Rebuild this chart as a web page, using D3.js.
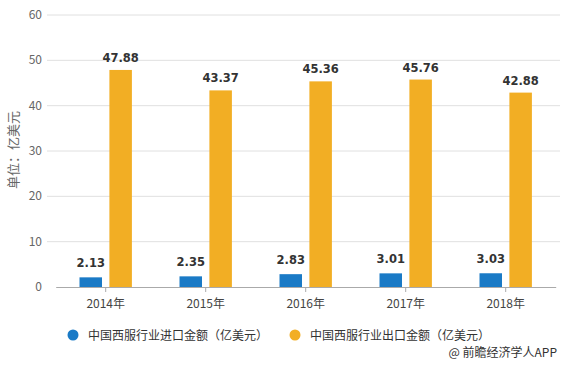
<!DOCTYPE html>
<html><head><meta charset="utf-8">
<script src="https://cdn.jsdelivr.net/npm/d3@7"></script>
<style>body{margin:0;background:#fff;}svg{display:block;font-family:"Microsoft YaHei","Noto Sans CJK SC",sans-serif;}</style>
</head><body><svg id="c" width="565" height="369"></svg>
<script>
const categories = ["2014年","2015年","2016年","2017年","2018年"];
const importValues = [2.13,2.35,2.83,3.01,3.03];
const exportValues = [47.88,43.37,45.36,45.76,42.88];
const seriesNames = ["中国西服行业进口金额（亿美元）","中国西服行业出口金额（亿美元）"];
const yTicks = [0,10,20,30,40,50,60];
const colors = ["#1a7ac6","#f2ae24"];

(function(){
const svg = d3.select("#c");
const pLeft = 55.7, pRight = 555.7, pTop = 15, pBottom = 287;
const x = d3.scaleBand().domain(categories).range([pLeft,pRight]);
const y = d3.scaleLinear().domain([0,60]).range([pBottom,pTop]);

// grid
svg.append("g").selectAll("line").data(yTicks.filter(d=>d>0)).join("line")
  .attr("x1",47).attr("x2",560).attr("y1",d=>y(d)).attr("y2",d=>y(d))
  .attr("stroke","#e0e0e0").attr("stroke-width",1);
// y labels
svg.append("g").selectAll("text").data(yTicks).join("text")
  .attr("x",42).attr("y",d=>y(d)+4).attr("text-anchor","end")
  .attr("font-size",12).attr("fill","#666").text(d=>d);
// y title
svg.append("text").attr("transform","translate(17.5,150) rotate(-90)")
  .attr("text-anchor","middle").attr("font-size",13).attr("fill","#666").text("单位：亿美元");

// x axis
const xAxis = d3.axisBottom(x).tickSize(5).tickSizeOuter(0);
const gx = svg.append("g").attr("transform",`translate(0,${pBottom})`).call(xAxis);
gx.select(".domain").attr("stroke","#aaa");
gx.selectAll(".tick line").attr("stroke","#aaa");
gx.selectAll(".tick text").attr("font-size",12).attr("fill","#444").attr("dy","1.05em")
  .attr("font-family","\"Microsoft YaHei\",\"Noto Sans CJK SC\",sans-serif");

const bw = 22.5, gap = 3.7;
const cx = d => x(d)+x.bandwidth()/2;
// bars
svg.append("g").selectAll("rect").data(categories).join("rect")
  .attr("x",(d)=>cx(d)-gap-bw).attr("width",bw)
  .attr("y",(d,i)=>y(importValues[i])).attr("height",(d,i)=>pBottom-y(importValues[i]))
  .attr("fill",colors[0]);
svg.append("g").selectAll("rect").data(categories).join("rect")
  .attr("x",(d)=>cx(d)+gap).attr("width",bw)
  .attr("y",(d,i)=>y(exportValues[i])).attr("height",(d,i)=>pBottom-y(exportValues[i]))
  .attr("fill",colors[1]);
// labels
svg.append("g").selectAll("text").data(categories).join("text")
  .attr("x",(d)=>cx(d)-gap-bw/2).attr("y",(d,i)=>y(importValues[i])-10)
  .attr("text-anchor","middle").attr("font-size",11.5).attr("font-weight","bold")
  .attr("fill","#333").attr("font-family","Verdana,'DejaVu Sans',sans-serif")
  .text((d,i)=>importValues[i].toFixed(2));
svg.append("g").selectAll("text").data(categories).join("text")
  .attr("x",(d)=>cx(d)+gap+bw/2).attr("y",(d,i)=>y(exportValues[i])-8)
  .attr("text-anchor","middle").attr("font-size",11.5).attr("font-weight","bold")
  .attr("fill","#333").attr("font-family","Verdana,'DejaVu Sans',sans-serif")
  .text((d,i)=>exportValues[i].toFixed(2));

// legend
const lx = [73,295];
seriesNames.forEach((n,i)=>{
  svg.append("circle").attr("cx",lx[i]).attr("cy",335).attr("r",5.5).attr("fill",colors[i]);
  svg.append("text").attr("x",lx[i]+15).attr("y",339.5).attr("font-size",12).attr("fill","#333").text(n);
});
svg.append("text").attr("x",557).attr("y",357).attr("text-anchor","end")
  .attr("font-size",12).attr("fill","#333").text("@ 前瞻经济学人APP");
})();
</script></body></html>
